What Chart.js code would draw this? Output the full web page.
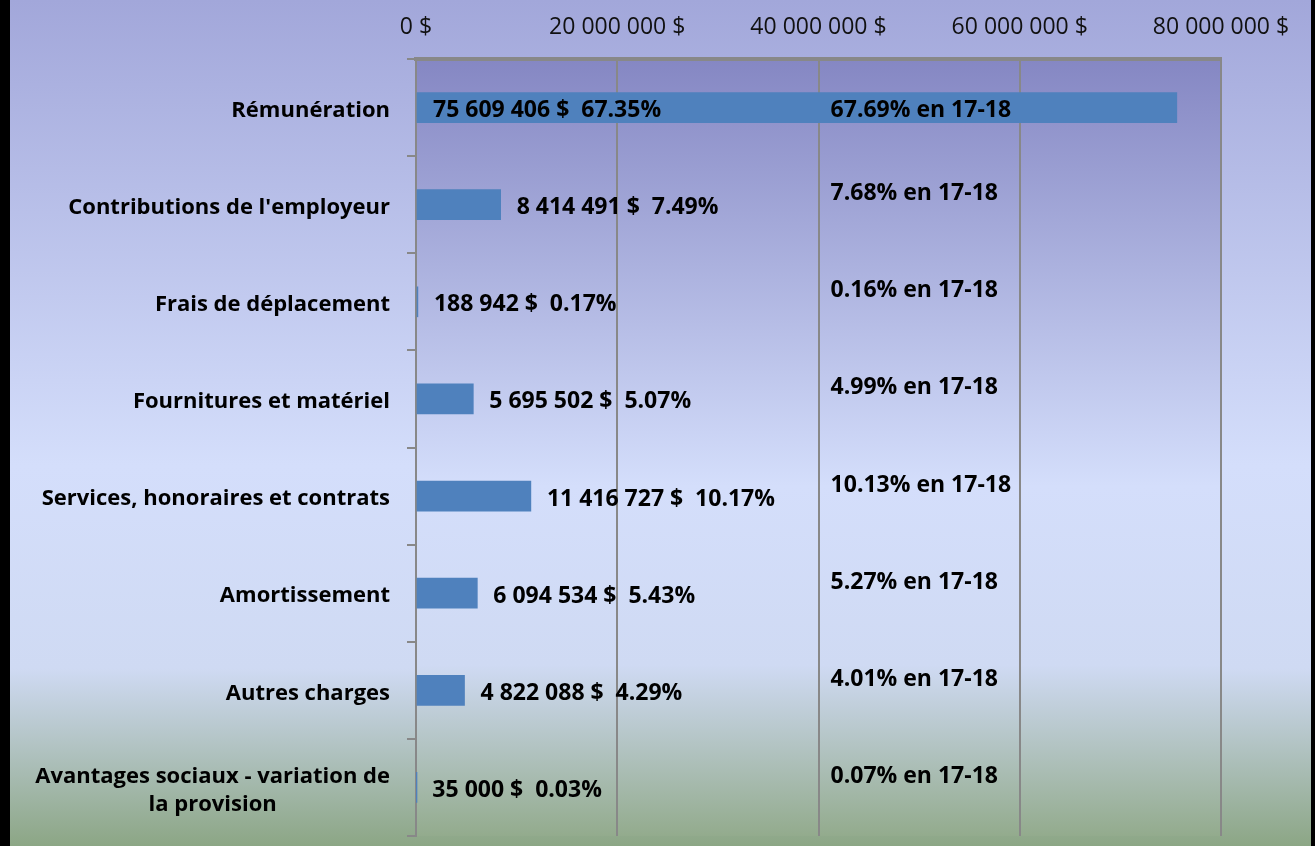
<!DOCTYPE html>
<html>
<head>
<meta charset="utf-8">
<script src="https://cdn.jsdelivr.net/npm/chart.js@4/dist/chart.umd.min.js"></script>
<style>
  html, body { margin: 0; padding: 0; background: #fff; }
  #wrap { width: 1315px; height: 846px; }
</style>
</head>
<body>
<div id="wrap"><canvas id="c" width="1315" height="846"></canvas></div>
<script>
// ---- data ----
const categories = [
  'Rémunération',
  "Contributions de l'employeur",
  'Frais de déplacement',
  'Fournitures et matériel',
  'Services, honoraires et contrats',
  'Amortissement',
  'Autres charges',
  ['Avantages sociaux - variation de', 'la provision']
];
const amounts = [75609406, 8414491, 188942, 5695502, 11416727, 6094534, 4822088, 35000];
const shares = [67.35, 7.49, 0.17, 5.07, 10.17, 5.43, 4.29, 0.03];
const sharesPrev = [67.69, 7.68, 0.16, 4.99, 10.13, 5.27, 4.01, 0.07];
const prevLabelSuffix = ' en 17-18';
const axisMin = 0, axisMax = 80000000, axisStep = 20000000;

function fmt(v) {
  return String(Math.round(v)).replace(/\B(?=(\d{3})+(?!\d))/g, ' ');
}

const FONT = "'Open Sans', 'Noto Sans', 'DejaVu Sans', sans-serif";
Chart.defaults.font.family = FONT;

const bgPlugin = {
  id: 'bg',
  beforeDraw(chart) {
    const ctx = chart.ctx, W = chart.width, H = chart.height, a = chart.chartArea;
    ctx.save();
    let g = ctx.createLinearGradient(0, 0, 0, H);
    g.addColorStop(0, '#a2a7da');
    g.addColorStop(0.55, '#d4defb');
    g.addColorStop(0.79, '#cfdaf3');
    g.addColorStop(1, '#8ca685');
    ctx.fillStyle = g;
    ctx.fillRect(0, 0, W, H);
    g = ctx.createLinearGradient(0, a.top, 0, a.bottom);
    g.addColorStop(0, '#8587c3');
    g.addColorStop(0.55, '#d4defb');
    g.addColorStop(0.78, '#cfdaf3');
    g.addColorStop(1, '#93ab8d');
    ctx.fillStyle = g;
    ctx.fillRect(a.left, a.top, a.right - a.left, a.bottom - a.top);
    ctx.fillStyle = '#000';
    ctx.fillRect(0, 0, 10, H);
    ctx.fillRect(W - 4, 0, 4, H);
    ctx.restore();
  }
};

const labelPlugin = {
  id: 'labels',
  afterDraw(chart) {
    const ctx = chart.ctx;
    const xs = chart.scales.x, ys = chart.scales.y;
    const meta = chart.getDatasetMeta(0);
    ctx.save();
    ctx.fillStyle = '#000';
    ctx.textBaseline = 'middle';
    ctx.font = 'bold 22px ' + FONT;
    // category labels
    const labelRight = xs.left - 26;
    categories.forEach((lab, i) => {
      const y = ys.getPixelForValue(i);
      const lines = Array.isArray(lab) ? lab : [lab];
      const lh = 28;
      const maxW = Math.max(...lines.map(l => ctx.measureText(l).width));
      const y0 = y - (lines.length - 1) * lh / 2 + 3;
      lines.forEach((l, k) => {
        if (lines.length > 1) {
          ctx.textAlign = 'center';
          ctx.fillText(l, labelRight - maxW / 2, y0 + k * lh);
        } else {
          ctx.textAlign = 'right';
          ctx.fillText(l, labelRight, y0);
        }
      });
    });
    // value labels
    ctx.font = 'bold 23px ' + FONT;
    ctx.textAlign = 'left';
    meta.data.forEach((bar, i) => {
      const txt = fmt(amounts[i]) + ' $  ' + shares[i].toFixed(2) + '%';
      const inside = amounts[i] > axisMax / 2;
      const x = inside ? bar.base + 16 : bar.x + 16;
      ctx.fillText(txt, x, bar.y + 3);
      const px = xs.getPixelForValue(41200000);
      const py = i === 0 ? bar.y + 3 : bar.y - 11;
      ctx.fillText(sharesPrev[i].toFixed(2) + '%' + prevLabelSuffix, px, py);
    });
    ctx.restore();
  }
};

new Chart(document.getElementById('c'), {
  type: 'bar',
  data: {
    labels: categories,
    datasets: [{
      data: amounts,
      backgroundColor: '#4f81bd',
      borderWidth: 0,
      barThickness: 30
    }]
  },
  options: {
    indexAxis: 'y',
    responsive: false,
    animation: false,
    layout: { padding: { left: 10, right: 94, top: 0, bottom: 10 } },
    plugins: { legend: { display: false }, tooltip: { enabled: false } },
    scales: {
      x: {
        position: 'top',
        min: axisMin,
        max: axisMax,
        afterFit(s) { s.height = 59; },
        ticks: {
          stepSize: axisStep,
          autoSkip: false,
          maxRotation: 0,
          padding: 18,
          color: '#111',
          font: { size: 23, family: FONT },
          callback: v => fmt(v) + ' $'
        },
        grid: { color: '#888', lineWidth: 2, drawTicks: false },
        border: { color: '#888', width: 4 }
      },
      y: {
        afterFit(s) { s.width = 406; },
        ticks: { display: false },
        grid: { drawOnChartArea: false, offset: true, tickLength: 9, color: '#888', lineWidth: 2 },
        border: { color: '#888', width: 2 }
      }
    }
  },
  plugins: [bgPlugin, labelPlugin]
});
</script>
</body>
</html>
